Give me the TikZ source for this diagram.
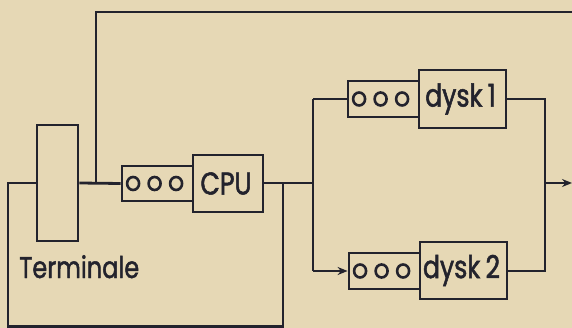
\documentclass[tikz,border=0pt]{standalone}
\usepackage{fontspec}
\setmainfont[FakeStretch=0.8,FakeBold=1.6]{Poppins}
\usetikzlibrary{arrows.meta}
\definecolor{paper}{RGB}{230,216,181}
\definecolor{ink}{RGB}{35,35,45}
\begin{document}
\begin{tikzpicture}[x=1pt,y=-1pt,
  line width=2.8pt, draw=ink,
  box/.style={draw=ink, rectangle, inner sep=0pt, line width=2.8pt},
  lbl/.style={text=ink, font=\fontsize{31.5}{32}\selectfont, inner sep=0pt},
  tlbl/.style={text=ink, font=\fontsize{30}{31}\selectfont, inner sep=0pt},
  arr/.style={-{Stealth[length=10pt,width=8pt]}},
  dots/.style={draw=ink, line width=2.6pt}]
\fill[paper] (0,0) rectangle (572,328);
\useasboundingbox (0,0) rectangle (572,328);
% nodes
\node[box, minimum width=41pt, minimum height=116pt] (term) at (57.5,183) {};
\node[box, minimum width=71pt, minimum height=35pt] (q0) at (157.5,183.5) {};
\node[box, minimum width=70pt, minimum height=57pt] (cpu) at (228,183.5) {};
\node[lbl] at ([xshift=-2pt]cpu.center) {CPU};
\node[box, minimum width=71pt, minimum height=36pt] (q1) at (383.5,99) {};
\node[box, minimum width=87pt, minimum height=58pt] (d1) at (462.5,99) {};
\node[lbl] at ([xshift=-2pt]d1.center) {dysk\,1};
\node[box, minimum width=71pt, minimum height=36pt] (q2) at (384.5,271) {};
\node[box, minimum width=87pt, minimum height=57pt] (d2) at (463.5,270.5) {};
\node[lbl] at ([xshift=-2pt]d2.center) {dysk\,2};
\node[tlbl, anchor=base west] (tlabel) at (18,278) {Terminale};
% queue circles
\foreach \q in {q0,q1,q2}{
  \foreach \dx in {12.5,34,55.5}{
    \draw[dots] ([xshift=\dx pt]\q.west) circle[x radius=6pt, y radius=6.5pt];
  }
}
% coordinates
\coordinate (tl) at (8,183);
\coordinate (bl) at (8,326.5);
\coordinate (br) at (283,326.5);
\coordinate (tr) at (283,183);
\coordinate (split) at (313,183);
\coordinate (up) at (96,183);
\coordinate (topl) at (96,12);
\coordinate (topr) at (573,12);
\coordinate (s1) at (313,99);
\coordinate (s2) at (313,271);
\coordinate (c1) at (545,99);
\coordinate (c2) at (545,271);
\coordinate (cm) at (545,183);
\coordinate (out) at (572,183);
% connectors
\draw (term.west |- tl) -- (tl) -- (bl) -- (br) -- (tr);
\draw (term.east |- up) -- (q0.west);
\draw (up) -- (topl) -- (topr);
\draw (cpu.east |- split) -- (split);
\draw (s1) -- (s2);
\draw (s1) -- (q1.west);
\draw[arr] (s2) -- (q2.west);
\draw (d1.east) -- (c1) -- (c2) -- (d2.east |- c2);
\draw[arr] (cm) -- (out);
\end{tikzpicture}
\end{document}
